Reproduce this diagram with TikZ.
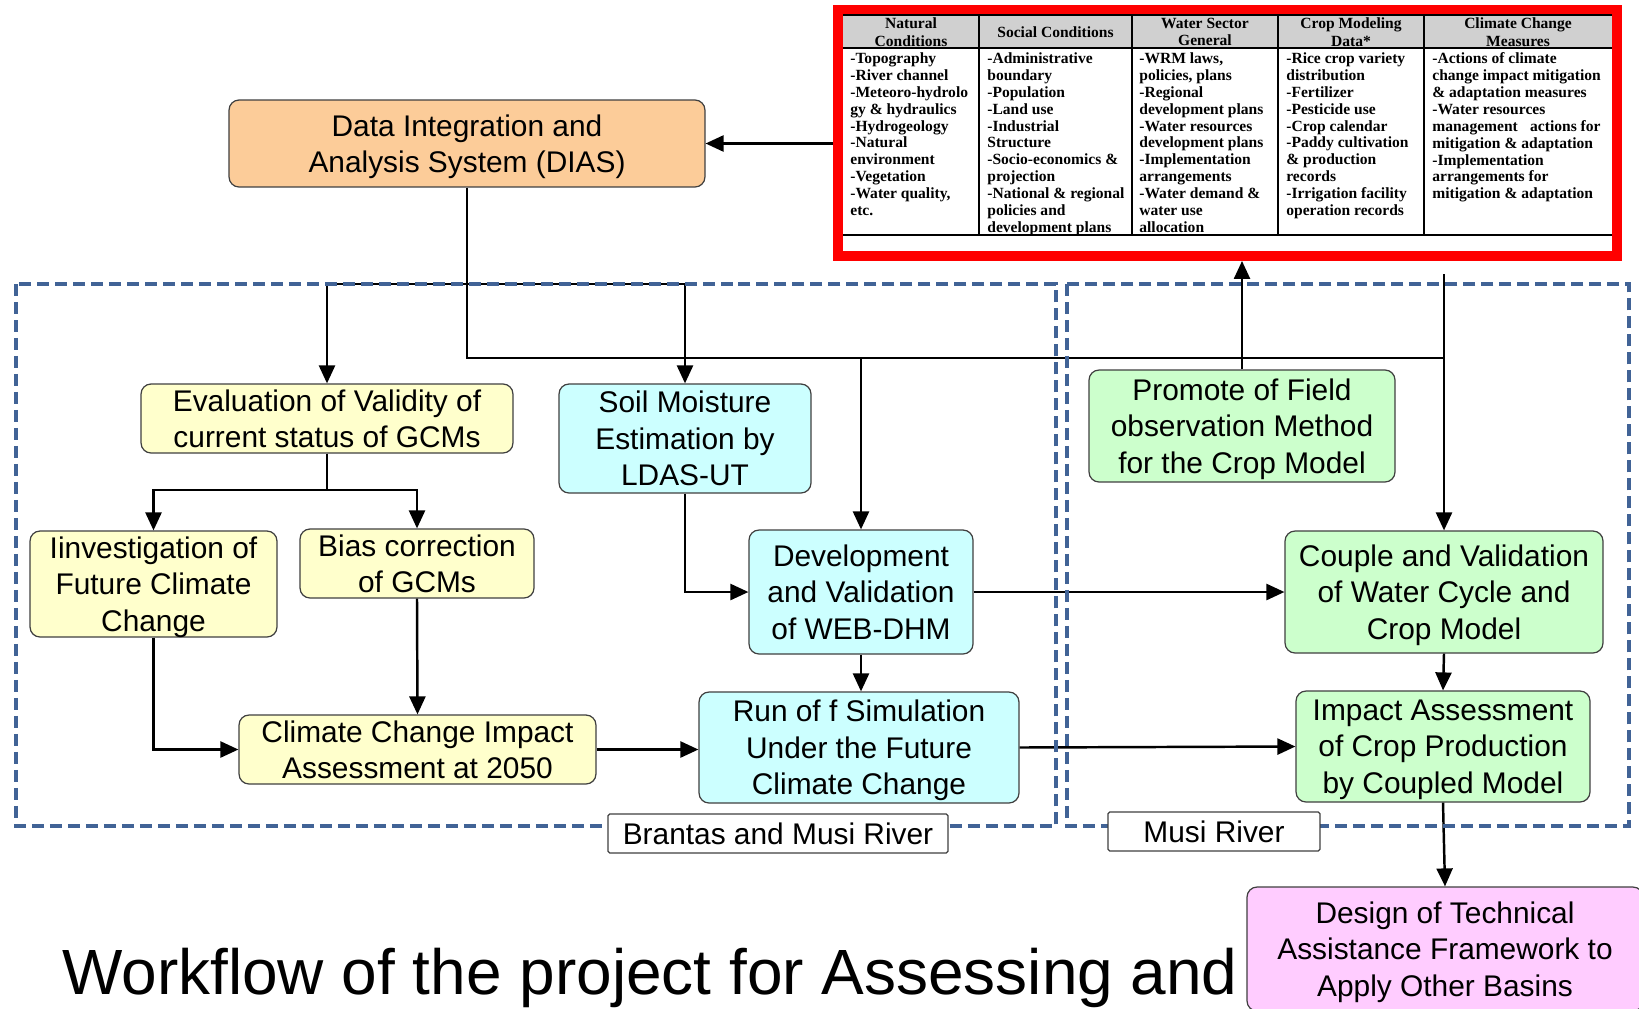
\documentclass[tikz,border=0pt]{standalone}
\usepackage{fontspec}
\setmainfont{Liberation Sans}
\newfontfamily\tablefont{Liberation Serif}
\usetikzlibrary{arrows.meta}

\definecolor{diasorange}{RGB}{252,204,153}
\definecolor{gcmyellow}{RGB}{255,255,204}
\definecolor{dhmcyan}{RGB}{204,255,255}
\definecolor{cropgreen}{RGB}{204,255,204}
\definecolor{basinpink}{RGB}{255,204,255}
\definecolor{zoneblue}{RGB}{65,99,150}
\definecolor{headgray}{RGB}{208,208,208}

\tikzset{
  flowbox/.style={draw=black!75, line width=0.7pt, rounded corners=0.2cm, align=center,
    inner sep=0pt, text depth=0pt, font=\fontsize{17}{20.7}\selectfont},
  flow/.style={-{Triangle[length=0.36cm,width=0.32cm]}, line width=1.4pt},
  zone/.style={draw=zoneblue, line width=2.2pt, dash pattern=on 0.24cm off 0.12cm},
  riverlabel/.style={draw=black!75, line width=0.7pt, fill=white, rounded corners=1pt,
    inner sep=0pt, font=\fontsize{17}{20.5}\selectfont},
  headcell/.style={font=\tablefont\bfseries\fontsize{8.85}{10}\selectfont, align=center, inner sep=0pt},
  cell/.style={font=\tablefont\bfseries\fontsize{8.85}{9.6}\selectfont, align=left,
    anchor=north west, inner sep=0pt}
}

\begin{document}
\begin{tikzpicture}[x=0.02cm,y=-0.02cm]
\useasboundingbox[fill=white] (0,0) rectangle (1639,1008);

% data table
\node[draw=red, line width=0.2cm, fill=white, inner sep=0pt,
      minimum width=15.58cm, minimum height=4.92cm] (data-table) at (1227.5,133) {};
\fill[headgray] (843,15) rectangle (1612,48);
\draw[line width=0.6pt] (843,15) -- (1612,15) (843,48) -- (1612,48) (843,235) -- (1612,235);
\foreach \x in {979,1132,1278,1424} \draw[line width=0.8pt] (\x,15) -- (\x,235);

\node[headcell] (natural-head) at (911,32)    {Natural\\Conditions};
\node[headcell] (social-head)  at (1055.5,32) {Social Conditions};
\node[headcell] (water-head)   at (1205,32)   {Water Sector\\General};
\node[headcell] (crop-head)    at (1351,32)   {Crop Modeling\\Data*};
\node[headcell] (climate-head) at (1518,32)   {Climate Change\\Measures};

\node[cell] (natural-list) at (850,52.5) {-Topography\\-River channel\\-Meteoro-hydrolo\\gy \& hydraulics\\-Hydrogeology\\-Natural\\environment\\-Vegetation\\-Water quality,\\etc.};
\node[cell] (social-list) at (987,52.5) {-Administrative\\boundary\\-Population\\-Land use\\-Industrial\\Structure\\-Socio-economics \&\\projection\\-National \& regional\\policies and\\development plans};
\node[cell] (water-list) at (1139,52.5) {-WRM laws,\\policies, plans\\-Regional\\development plans\\-Water resources\\development plans\\-Implementation\\arrangements\\-Water demand \&\\water use\\allocation};
\node[cell] (crop-list) at (1286,52.5) {-Rice crop variety\\distribution\\-Fertilizer\\-Pesticide use\\-Crop calendar\\-Paddy cultivation\\\& production\\records\\-Irrigation facility\\operation records};
\node[cell] (climate-list) at (1432,52.5) {-Actions of climate\\change impact mitigation\\\& adaptation measures\\-Water resources\\management\hspace{7pt}actions for\\mitigation \& adaptation\\-Implementation\\arrangements for\\mitigation \& adaptation};

% flow boxes
\node[flowbox, fill=diasorange, minimum width=9.52cm, minimum height=1.74cm] (dias) at (467,143.5) {Data Integration and\\Analysis System (DIAS)};
\node[flowbox, fill=gcmyellow, minimum width=7.44cm, minimum height=1.38cm] (eval-gcm) at (327,418.5) {Evaluation of Validity of\\current status of GCMs};
\node[flowbox, fill=gcmyellow, minimum width=4.94cm, minimum height=2.12cm] (future-cc) at (153.5,584) {Iinvestigation of\\Future Climate\\Change};
\node[flowbox, fill=gcmyellow, minimum width=4.68cm, minimum height=1.38cm] (bias-gcm) at (417,563.5) {Bias correction\\of GCMs};
\node[flowbox, fill=gcmyellow, minimum width=7.14cm, minimum height=1.38cm] (impact-2050) at (417.5,749.5) {Climate Change Impact\\Assessment at 2050};
\node[flowbox, fill=dhmcyan, minimum width=5.04cm, minimum height=2.18cm] (soil-moisture) at (685,438.5) {Soil Moisture\\Estimation by\\LDAS-UT};
\node[flowbox, fill=dhmcyan, minimum width=4.48cm, minimum height=2.48cm] (web-dhm) at (861,592) {Development\\and Validation\\of WEB-DHM};
\node[flowbox, fill=dhmcyan, minimum width=6.4cm, minimum height=2.22cm] (runoff-sim) at (859,747.5) {Run of f Simulation\\Under the Future\\Climate Change};
\node[flowbox, fill=cropgreen, minimum width=6.12cm, minimum height=2.24cm] (field-obs) at (1242,426) {Promote of Field\\observation Method\\for the Crop Model};
\node[flowbox, fill=cropgreen, minimum width=6.36cm, minimum height=2.44cm] (couple-model) at (1444,592) {Couple and Validation\\of Water Cycle and\\Crop Model};
\node[flowbox, fill=cropgreen, minimum width=5.88cm, minimum height=2.22cm] (crop-impact) at (1443,746.5) {Impact Assessment\\of Crop Production\\by Coupled Model};
\node[flowbox, fill=basinpink, minimum width=7.92cm, minimum height=2.48cm] (design-ta) at (1445,949) {Design of Technical\\Assistance Framework to\\Apply Other Basins};

\node[anchor=base west, inner sep=0pt, font=\fontsize{36.4}{40}\selectfont] (title) at (62,994) {Workflow of the project for Assessing and};

% connectors
\coordinate (zone-top) at (0,284);
\coordinate (gcm-split) at (0,490);
\coordinate (bus-end) at (1444,358);
\coordinate (stub-top) at (1444,274);

\draw[flow] (data-table.west |- dias.east) -- (dias.east);
\draw[flow] (dias.south) |- (bus-end) -- (couple-model.north);
\draw[line width=1.4pt] (stub-top) -- (bus-end);
\draw[flow] (web-dhm.north |- bus-end) -- (web-dhm.north);
\draw[line width=1.4pt] (eval-gcm.north |- zone-top) -- (soil-moisture.north |- zone-top);
\draw[flow] (eval-gcm.north |- zone-top) -- (eval-gcm.north);
\draw[flow] (soil-moisture.north |- zone-top) -- (soil-moisture.north);
\draw[flow] (eval-gcm.south) |- (future-cc.north |- gcm-split) -- (future-cc.north);
\draw[flow] (eval-gcm.south) |- (bias-gcm.north |- gcm-split) -- (bias-gcm.north);
\draw[flow] (future-cc.south) |- (impact-2050.west);
\draw[flow] (bias-gcm.south) -- (impact-2050.north);
\draw[flow] (impact-2050.east) -- (runoff-sim.west |- impact-2050.east);
\draw[flow] (soil-moisture.south) |- (web-dhm.west);
\draw[flow] (web-dhm.east) -- (couple-model.west);
\draw[flow] (web-dhm.south) -- (web-dhm.south |- runoff-sim.north);
\draw[flow] (runoff-sim.east) -- (crop-impact.west);
\draw[flow] (couple-model.south) -- (crop-impact.north);
\draw[flow] (crop-impact.south) -- (design-ta.north);
\draw[flow] (field-obs.north) -- (field-obs.north |- data-table.south);

% basin zones
\draw[zone] (16,284) rectangle (1056,826);
\draw[zone] (1067,284) rectangle (1629,826);
\node[riverlabel, minimum width=6.8cm, minimum height=0.78cm] (brantas-musi) at (778,833.5) {Brantas and Musi River};
\node[riverlabel, minimum width=4.24cm, minimum height=0.78cm] (musi) at (1214,831.5) {Musi River};
\end{tikzpicture}
\end{document}
